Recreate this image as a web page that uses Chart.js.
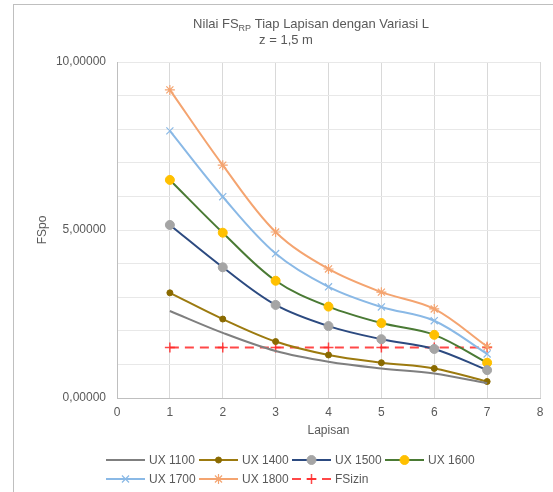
<!DOCTYPE html>
<html>
<head>
<meta charset="utf-8">
<script src="https://cdn.jsdelivr.net/npm/chart.js@4.4.0/dist/chart.umd.min.js"></script>
<style>
  html, body { margin: 0; padding: 0; background: #fff; }
  #wrap { position: relative; width: 553px; height: 492px; }
  #frame { position: absolute; left: 13px; top: 4px; width: 560px; height: 500px; border: 1px solid #bfbfbf; box-sizing: border-box; }
  canvas { position: absolute; left: 0; top: 0; }
</style>
</head>
<body>
<div id="wrap">
  <div id="frame"></div>
  <canvas id="fsChart" width="553" height="492"></canvas>
</div>
<script>
const lapisan = [1, 2, 3, 4, 5, 6, 7];
const ux1100 = [2.59, 1.94, 1.40, 1.08, 0.88, 0.73, 0.44];
const ux1400 = [3.13, 2.35, 1.68, 1.28, 1.05, 0.88, 0.49];
const ux1500 = [5.15, 3.89, 2.77, 2.14, 1.75, 1.46, 0.83];
const ux1600 = [6.49, 4.92, 3.49, 2.72, 2.23, 1.88, 1.05];
const ux1700 = [7.95, 5.99, 4.30, 3.31, 2.71, 2.30, 1.31];
const ux1800 = [9.17, 6.93, 4.94, 3.84, 3.15, 2.65, 1.53];
const fsIzin = [1.5, 1.5, 1.5, 1.5, 1.5, 1.5, 1.5];
const seriesNames = ['UX 1100', 'UX 1400', 'UX 1500', 'UX 1600', 'UX 1700', 'UX 1800', 'FSizin'];

const textColor = '#595959';
const fontFam = "'Liberation Sans', Arial, sans-serif";

function pts(vals) {
  return vals.map((v, i) => ({ x: lapisan[i], y: v }));
}

function fmt(v) {
  return v.toFixed(5).replace('.', ',');
}

// title with subscript RP
const titlePlugin = {
  id: 'titleSub',
  afterDraw(chart) {
    const ctx = chart.ctx;
    ctx.save();
    ctx.fillStyle = textColor;
    ctx.textBaseline = 'alphabetic';
    const big = '13px ' + fontFam;
    const small = '9px ' + fontFam;
    const a = 'Nilai FS', b = 'RP', c = ' Tiap Lapisan dengan Variasi L';
    ctx.font = big;
    const wa = ctx.measureText(a).width, wc = ctx.measureText(c).width;
    ctx.font = small;
    const wb = ctx.measureText(b).width;
    let x = 311 - (wa + wb + wc) / 2;
    ctx.font = big;
    ctx.fillText(a, x, 28);
    x += wa;
    ctx.font = small;
    ctx.fillText(b, x, 31);
    x += wb;
    ctx.font = big;
    ctx.fillText(c, x, 28);
    ctx.textAlign = 'center';
    ctx.fillText('z = 1,5 m', 286, 44);
    ctx.restore();
  }
};

// excel style legend: line with marker in the middle
const legendPlugin = {
  id: 'lineLegend',
  afterDraw(chart) {
    const ctx = chart.ctx;
    chart.data.datasets.forEach((ds, i) => {
      const col = i % 4, row = Math.floor(i / 4);
      const x0 = 106 + col * 93;
      const y = row ? 479 : 460;
      ctx.save();
      ctx.strokeStyle = ds.borderColor;
      ctx.lineWidth = ds.borderWidth;
      ctx.setLineDash(ds.borderDash || []);
      ctx.beginPath();
      ctx.moveTo(x0, y);
      ctx.lineTo(x0 + 39, y);
      ctx.stroke();
      ctx.setLineDash([]);
      if (ds.pointRadius > 0) {
        ctx.fillStyle = ds.pointBackgroundColor;
        ctx.strokeStyle = ds.pointBorderColor;
        ctx.lineWidth = ds.pointBorderWidth;
        Chart.helpers.drawPoint(ctx, {
          pointStyle: ds.pointStyle, radius: ds.pointRadius, rotation: 0, borderWidth: ds.pointBorderWidth
        }, x0 + 19.5, y);
      }
      ctx.fillStyle = textColor;
      ctx.font = '12px ' + fontFam;
      ctx.textBaseline = 'middle';
      ctx.fillText(ds.label, x0 + 43, y + 1);
      ctx.restore();
    });
  }
};

function series(i, vals, color, style, radius, fill, extra) {
  return Object.assign({
    label: seriesNames[i],
    data: pts(vals),
    borderColor: color,
    backgroundColor: color,
    borderWidth: 2,
    pointStyle: style,
    pointRadius: radius,
    pointHoverRadius: radius,
    pointBackgroundColor: fill,
    pointBorderColor: fill,
    pointBorderWidth: 1,
    tension: 0.35,
    fill: false
  }, extra || {});
}

const datasets = [
  series(0, ux1100, '#7f7f7f', 'circle', 0, '#7f7f7f'),
  series(1, ux1400, '#9c7a0f', 'circle', 3, '#8a6a00'),
  series(2, ux1500, '#2c4a80', 'circle', 4.5, '#a5a5a5'),
  series(3, ux1600, '#4a7a34', 'circle', 4.5, '#ffc000'),
  series(4, ux1700, '#8ab9e6', 'crossRot', 5, '#8ab9e6', { pointBorderColor: '#8ab9e6', pointBorderWidth: 1.2 }),
  series(5, ux1800, '#f4a470', 'star', 5, '#f4a470', { pointBorderColor: '#f4a470', pointBorderWidth: 1.2 }),
  series(6, fsIzin, 'rgba(255,40,40,0.85)', 'cross', 5, 'rgba(255,40,40,0.85)', { borderDash: [9, 6], tension: 0, pointBorderWidth: 1.5 })
];

new Chart(document.getElementById('fsChart'), {
  type: 'line',
  data: { datasets: datasets },
  plugins: [titlePlugin, legendPlugin],
  options: {
    responsive: false,
    animation: false,
    events: [],
    layout: { padding: { top: 62, right: 13, left: 0, bottom: 0 } },
    plugins: { legend: { display: false }, title: { display: false }, tooltip: { enabled: false } },
    scales: {
      x: {
        type: 'linear',
        min: 0,
        max: 8,
        ticks: { stepSize: 1, color: textColor, font: { family: fontFam, size: 12 }, padding: 7 },
        grid: { color: '#d9d9d9', drawTicks: false },
        border: { color: '#bfbfbf' },
        title: { display: true, text: 'Lapisan', color: textColor, font: { family: fontFam, size: 12 }, padding: { top: 54, bottom: 54 } },
        afterFit(s) { s.height = 94; }
      },
      y: {
        min: 0,
        max: 10,
        ticks: {
          stepSize: 1,
          color: textColor,
          font: { family: fontFam, size: 12 },
          padding: 11,
          callback: v => (v % 5 === 0 ? fmt(v) : '')
        },
        grid: { color: '#e8e8e8', drawTicks: false },
        border: { color: '#bfbfbf' },
        title: { display: true, text: 'FSpo', color: textColor, font: { family: fontFam, size: 12 }, padding: { top: 35, bottom: 35 } },
        afterFit(s) { s.width = 117; }
      }
    }
  }
});
</script>
</body>
</html>
